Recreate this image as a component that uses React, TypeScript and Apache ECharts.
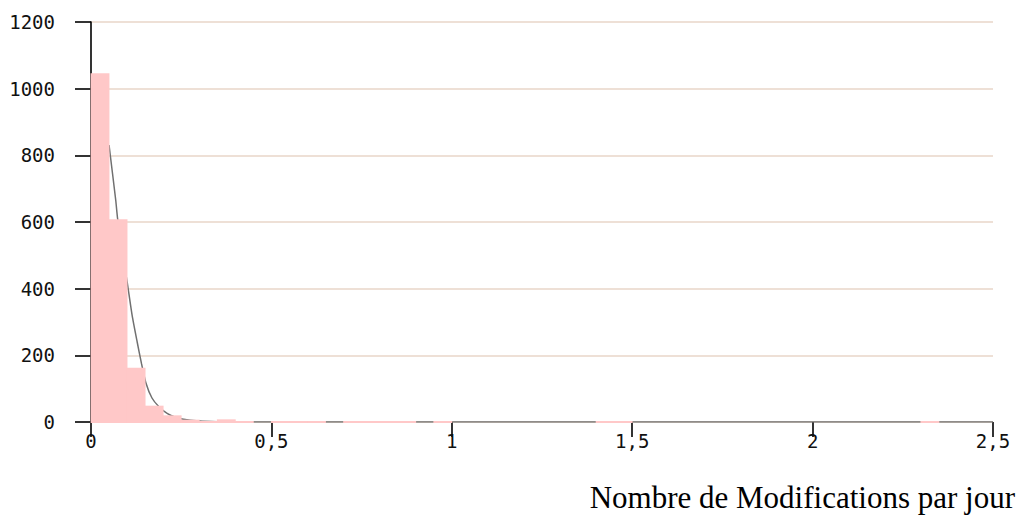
import React, { useEffect, useRef } from "react";
import * as echarts from "echarts";

// Histogram bins (width 0.05) and counts
const binWidth = 0.05;
const counts = [
  1046, 608, 163, 49, 20, 7, 2, 8, 2, 0,
  2, 2, 2, 0, 2, 2, 2, 2, 0, 2,
  0, 0, 0, 0, 0, 0, 0, 0, 2, 2,
  0, 0, 0, 0, 0, 0, 0, 0, 0, 0,
  0, 0, 0, 0, 0, 0, 2, 0, 0, 0,
];

// Fitted density curve
const curveX = [0.05, 0.0685, 0.0735, 0.087, 0.1007, 0.114, 0.128, 0.14, 0.152, 0.169, 0.189, 0.211, 0.232, 0.252, 0.3, 0.35, 0.42, 1.0, 1.5, 2.0, 2.5];
const curveY = [831, 666, 612, 510, 417, 320, 240, 175, 118, 72, 45, 26, 15, 9, 3, 1, 0, 0, 0, 0, 0];

const xTicks = [0, 0.5, 1, 1.5, 2, 2.5];
const yTicks = [0, 200, 400, 600, 800, 1000, 1200];
const xTitle = "Nombre de Modifications par jour";

export default function App() {
  const ref = useRef<HTMLDivElement>(null);
  useEffect(() => {
    if (!ref.current) return;
    const chart = echarts.init(ref.current, null, { renderer: "svg" });
    const binData = counts.map((c, i) => [i * binWidth, (i + 1) * binWidth, c]);
    const curveData = curveX.map((x, i) => [x, curveY[i]]);
    const monoFont = "DejaVu Sans Mono";
    chart.setOption({
      animation: false,
      backgroundColor: "#ffffff",
      grid: { left: 91, right: 33, top: 22, bottom: 107, containLabel: false },
      xAxis: {
        type: "value",
        min: xTicks[0],
        max: xTicks[xTicks.length - 1],
        interval: 0.5,
        axisLine: { show: false },
        axisTick: { show: true, length: 15, lineStyle: { color: "#000", width: 1.6 } },
        axisLabel: {
          margin: 9,
          fontFamily: monoFont,
          fontSize: 19,
          color: "#111",
          formatter: (v: number) => String(v).replace(".", ","),
        },
        splitLine: { show: false },
      },
      yAxis: {
        type: "value",
        min: yTicks[0],
        max: yTicks[yTicks.length - 1],
        interval: 200,
        axisLine: { show: true, lineStyle: { color: "#000", width: 1.6 } },
        axisTick: { show: true, length: 16, lineStyle: { color: "#000", width: 1.6 } },
        axisLabel: {
          margin: 36,
          fontFamily: monoFont,
          fontSize: 19,
          color: "#111",
          formatter: (v: number) => String(v),
        },
        splitLine: { show: true, lineStyle: { color: "#e8d6c8", width: 1.5 } },
      },
      series: [
        {
          type: "line",
          data: curveData,
          showSymbol: false,
          smooth: 0.2,
          lineStyle: { color: "#707070", width: 1.5 },
          z: 2,
        },
        {
          type: "custom",
          data: binData,
          encode: { x: [0, 1], y: 2 },
          z: 3,
          renderItem: (params: any, api: any) => {
            const x0 = api.value(0);
            const x1 = api.value(1);
            const v = api.value(2);
            if (!v) return null;
            const p0 = api.coord([x0, v]);
            const p1 = api.coord([x1, 0]);
            const base = p1[1] + 1;
            let top = p0[1];
            if (base - top < 2) top = base - 2;
            return {
              type: "rect",
              shape: { x: p0[0] - 0.4, y: top, width: p1[0] - p0[0] + 0.8, height: base - top },
              style: { fill: "#ffc8c8" },
            };
          },
        },
      ],
      graphic: [
        {
          type: "text",
          right: 11,
          top: 482,
          style: { text: xTitle, font: '31px "Liberation Serif"', fill: "#000" },
        },
      ],
    });
    return () => chart.dispose();
  }, []);
  return (
    <div
      ref={ref}
      style={{ position: "fixed", left: 0, top: 0, width: 1026, height: 529 }}
    />
  );
}
